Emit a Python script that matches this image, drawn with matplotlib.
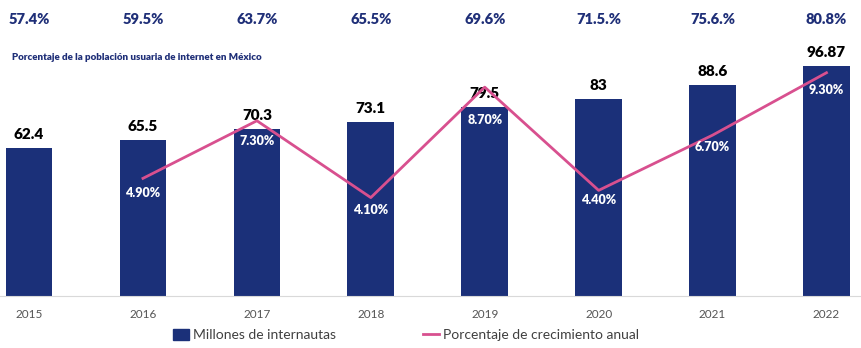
import matplotlib.pyplot as plt
from matplotlib.patches import Patch
from matplotlib.lines import Line2D

plt.rcParams['font.family'] = ['Lato', 'DejaVu Sans']

years = ['2015', '2016', '2017', '2018', '2019', '2020', '2021', '2022']
internautas = [62.4, 65.5, 70.3, 73.1, 79.5, 83, 88.6, 96.87]
internautas_labels = ['62.4', '65.5', '70.3', '73.1', '79.5', '83', '88.6', '96.87']
crecimiento = [4.9, 7.3, 4.1, 8.7, 4.4, 6.7, 9.3]  # 2016 onwards
crecimiento_labels = ['4.90%', '7.30%', '4.10%', '8.70%', '4.40%', '6.70%', '9.30%']
poblacion_pct = ['57.4%', '59.5%', '63.7%', '65.5%', '69.6%', '71.5.%', '75.6.%', '80.8%']

navy = '#1b3079'
pink = '#d8508f'
title_col = '#1f2f78'

# label offsets (pixels below the line point)
label_drop = [15, 20, 12, 33, 10, 12, 17]

fig = plt.figure(figsize=(8.61, 3.48), dpi=100)
ax = fig.add_axes([0, 52 / 348, 1, 296 / 348])
x = list(range(len(years)))
ax.bar(x, internautas, width=0.41, color=navy, zorder=2)
ax.set_xlim(-0.255, 7.303)
ax.set_ylim(0, 124.4)
for xi, v, lab in zip(x, internautas, internautas_labels):
    ax.annotate(lab, (xi, v), xytext=(0, 5), textcoords='offset points',
                ha='center', va='bottom', fontsize=11, fontweight='heavy',
                color='black')

for s in ['top', 'right', 'left']:
    ax.spines[s].set_visible(False)
ax.spines['bottom'].set_color('#d9d9d9')
ax.set_yticks([])
ax.set_xticks(x)
ax.set_xticklabels(years, fontsize=8.5, color='#555555')
ax.tick_params(axis='x', length=0, pad=9)

ax2 = ax.twinx()
ax2.set_ylim(0, 12.33)
ax2.axis('off')
ax2.plot(x[1:], crecimiento, color=pink, lw=2, zorder=3)
for xi, v, lab, d in zip(x[1:], crecimiento, crecimiento_labels, label_drop):
    ax2.annotate(lab, (xi, v), xytext=(0, -d * 0.72), textcoords='offset points',
                 ha='center', va='center', fontsize=9, fontweight='heavy',
                 color='white')

# share of population online, across the top
for xi, lab in zip(x, poblacion_pct):
    fig.text((xi + 0.255) / 7.558, 1 - 20 / 348, lab, ha='center', va='center',
             fontsize=10.5, fontweight='heavy', color=title_col)
fig.text(12 / 861, 1 - 57 / 348,
         'Porcentaje de la población usuaria de internet en México',
         ha='left', va='center', fontsize=7, fontweight='heavy', color=title_col)

handles = [Patch(facecolor=navy, edgecolor=navy),
           Line2D([0], [0], color=pink, lw=2)]
fig.legend(handles, ['Millones de internautas', 'Porcentaje de crecimiento anual'],
           loc='center', bbox_to_anchor=(0.4715, 13 / 348), ncol=2, frameon=False,
           fontsize=10, handlelength=1.2, handleheight=0.8, handletextpad=0.3,
           columnspacing=6.2, labelcolor='#404040')

fig.savefig('out.png', dpi=100)
